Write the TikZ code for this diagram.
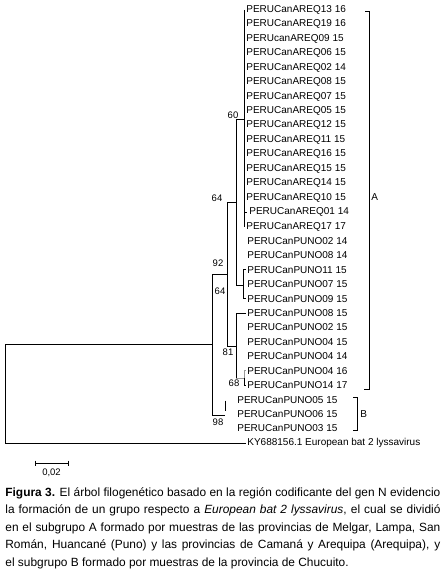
\documentclass[tikz,border=0pt]{standalone}
\usepackage{fontspec}
\setmainfont{Liberation Sans}
\begin{document}
\begin{tikzpicture}[x=1pt,y=-1pt,line width=0.8pt,
  leaf/.style={anchor=west,inner sep=1pt,font=\fontsize{10}{12}\selectfont},
  boot/.style={inner sep=0pt,font=\fontsize{9.5}{11}\selectfont},
  lightbranch/.style={black!40}]

  \useasboundingbox (0,0) rectangle (445,580);

  % leaves
  \node[leaf] (a13) at (245,10) {PERUCanAREQ13 16};
  \node[leaf] (a19) at (245,24.4) {PERUCanAREQ19 16};
  \node[leaf] (a09) at (245,38.9) {PERUcanAREQ09 15};
  \node[leaf] (a06) at (245,53.3) {PERUCanAREQ06 15};
  \node[leaf] (a02) at (245,67.7) {PERUCanAREQ02 14};
  \node[leaf] (a08) at (245,82.2) {PERUCanAREQ08 15};
  \node[leaf] (a07) at (245,96.6) {PERUCanAREQ07 15};
  \node[leaf] (a05) at (245,111) {PERUCanAREQ05 15};
  \node[leaf] (a12) at (245,125.4) {PERUCanAREQ12 15};
  \node[leaf] (a11) at (245,139.9) {PERUCanAREQ11 15};
  \node[leaf] (a16) at (245,154.3) {PERUCanAREQ16 15};
  \node[leaf] (a15) at (245,168.7) {PERUCanAREQ15 15};
  \node[leaf] (a14) at (245,183.2) {PERUCanAREQ14 15};
  \node[leaf] (a10) at (245,197.6) {PERUCanAREQ10 15};
  \node[leaf] (a01) at (248,212) {PERUCanAREQ01 14};
  \node[leaf] (a17) at (245,226.5) {PERUCanAREQ17 17};
  \node[leaf] (p02a) at (246,240.9) {PERUCanPUNO02 14};
  \node[leaf] (p08a) at (246,255.3) {PERUCanPUNO08 14};
  \node[leaf] (p11) at (246,269.7) {PERUCanPUNO11 15};
  \node[leaf] (p07) at (246,284.2) {PERUCanPUNO07 15};
  \node[leaf] (p09) at (246,298.6) {PERUCanPUNO09 15};
  \node[leaf] (p08b) at (246,313) {PERUCanPUNO08 15};
  \node[leaf] (p02b) at (246,327.5) {PERUCanPUNO02 15};
  \node[leaf] (p04a) at (246,341.9) {PERUCanPUNO04 15};
  \node[leaf] (p04b) at (246,356.3) {PERUCanPUNO04 14};
  \node[leaf] (p04c) at (246,370.8) {PERUCanPUNO04 16};
  \node[leaf] (p14) at (246,385.2) {PERUCanPUNO14 17};
  \node[leaf] (p05) at (236,399.6) {PERUCanPUNO05 15};
  \node[leaf] (p06) at (236,414) {PERUCanPUNO06 15};
  \node[leaf] (p03) at (236,428.5) {PERUCanPUNO03 15};
  \node[leaf] (ky) at (246,443) {KY688156.1 European bat 2 lyssavirus};

  % internal nodes
  \coordinate (root) at (5,344);
  \coordinate (r1) at (212,344);
  \coordinate (c92) at (227,274);
  \coordinate (c64) at (236,202);
  \coordinate (c60) at (244,119);
  \coordinate (c11) at (243,285);
  \coordinate (c81) at (236,346);
  \coordinate (c68) at (244,378);
  \coordinate (c98) at (225,415);

  % branches
  \draw (r1) -- (root) -- (root |- ky) -- (ky.west);
  \draw (r1 |- c92) -- (r1 |- c98);
  \draw (r1 |- c92) -- (c92);
  \draw (r1 |- c98) -- (c98);
  \draw (c92 |- c64) -- (c92 |- c81);
  \draw (c92 |- c64) -- (c64);
  \draw (c92 |- c81) -- (c81);
  \draw (c64 |- c60) -- (c64 |- c11);
  \draw (c64 |- c60) -- (c60);
  \draw (c64 |- c11) -- (c11);
  \draw (c60 |- a13.west) -- (c60 |- a17.west);
  \draw (c60 |- a01) -- ([xshift=-1pt]a01.west);
  \draw (p11.west) -- (c11 |- p11) -- (c11 |- p09) -- (p09.west);
  \draw (p08b.west) -- (c81 |- p08b) -- (c81 |- c68);
  \draw[lightbranch] (c81 |- c68) -- (c68) -- (c68 |- p04c) -- (p04c.west);
  \draw (c68) -- (c68 |- p14) -- (p14.west);
  \draw ([yshift=-1pt]c98 |- p05) -- ([yshift=4pt]c98);

  % bootstrap values
  \node[boot] (b60) at (233,115) {60};
  \node[boot] (b64a) at (217,198) {64};
  \node[boot] (b92) at (218,263) {92};
  \node[boot] (b64b) at (220,291) {64};
  \node[boot] (b81) at (228,352) {81};
  \node[boot] (b68) at (234,383) {68};
  \node[boot] (b98) at (218,422) {98};

  % subgroups
  \node[leaf,anchor=west,inner sep=0pt] (A) at (371,197) {A};
  \draw (365,11) -| (369,389) -- (364,389);
  \node[leaf,anchor=west,inner sep=0pt] (B) at (360,414) {B};
  \draw (353,397) -| (357,430) -- (353,430);

  % scale bar
  \coordinate (sbl) at (35,463);
  \coordinate (sbr) at (68,463);
  \draw (sbl) -- (sbr);
  \draw ([yshift=2.5pt]sbl) -- ([yshift=-3pt]sbl);
  \draw ([yshift=2.5pt]sbr) -- ([yshift=-3pt]sbr);
  \node[font=\fontsize{9.5}{11}\selectfont,inner sep=0pt] (scale) at (51.5,473) {0,02};

  % caption
  \node[anchor=north west,inner sep=0pt,text width=435pt,align=justify,
        font=\fontsize{11.9}{17.5}\selectfont] (cap) at (5,487)
    {\textbf{Figura 3.} El árbol filogenético basado en la región codificante del gen N evidencio\linebreak
     la formación de un grupo respecto a \textit{European bat 2 lyssavirus}, el cual se dividió\linebreak
     en el subgrupo A formado por muestras de las provincias de Melgar, Lampa, San\linebreak
     Román, Huancané (Puno) y las provincias de Camaná y Arequipa (Arequipa), y\linebreak
     el subgrupo B formado por muestras de la provincia de Chucuito.};

\end{tikzpicture}
\end{document}
